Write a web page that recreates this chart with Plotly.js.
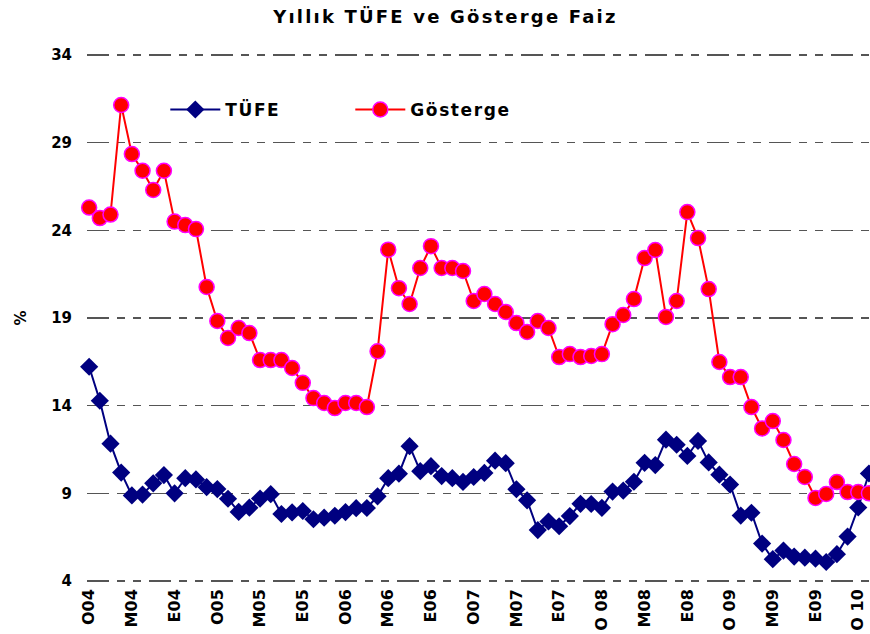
<!DOCTYPE html>
<html>
<head>
<meta charset="utf-8">
<script src="https://cdn.plot.ly/plotly-3.0.1.min.js"></script>
<style>
html, body { margin: 0; padding: 0; background: #fff; }
#chart { width: 870px; height: 634px; }
#chart .gtitle { letter-spacing: 2.2px; }
#chart .legendtext { letter-spacing: 1.6px; }
</style>
</head>
<body>
<div id="chart"></div>
<script>
// Monthly data, January 2004 – February 2010
const monthIndex = Array.from({length: 74}, (_, i) => i);

const tufe = [
  16.22, 14.28, 11.83, 10.18, 8.88, 8.93, 9.57, 10.04, 9.00, 9.86, 9.79, 9.35,
  9.24, 8.69, 7.94, 8.18, 8.70, 8.95, 7.82, 7.91, 7.99, 7.52, 7.61, 7.72,
  7.93, 8.15, 8.16, 8.83, 9.86, 10.12, 11.69, 10.26, 10.55, 9.98, 9.86, 9.65,
  9.93, 10.16, 10.86, 10.72, 9.23, 8.60, 6.90, 7.39, 7.12, 7.70, 8.40, 8.39,
  8.17, 9.10, 9.15, 9.66, 10.74, 10.61, 12.06, 11.77, 11.13, 11.99, 10.76, 10.06,
  9.50, 7.73, 7.89, 6.13, 5.24, 5.73, 5.39, 5.33, 5.27, 5.08, 5.53, 6.53,
  8.19, 10.13
];

const gosterge = [
  25.3, 24.7, 24.9, 31.15, 28.35, 27.4, 26.3, 27.4, 24.5, 24.3, 24.07, 20.77,
  18.83, 17.86, 18.43, 18.14, 16.6, 16.6, 16.6, 16.15, 15.3, 14.43, 14.15, 13.86,
  14.15, 14.15, 13.92, 17.1, 22.9, 20.7, 19.8, 21.85, 23.1, 21.85, 21.85, 21.68,
  19.97, 20.37, 19.8, 19.34, 18.71, 18.2, 18.83, 18.43, 16.77, 16.94, 16.77, 16.83,
  16.94, 18.65, 19.17, 20.08, 22.42, 22.88, 19.06, 19.97, 25.04, 23.56, 20.65, 16.49,
  15.63, 15.63, 13.92, 12.7, 13.12, 12.04, 10.67, 9.93, 8.73, 8.96, 9.64, 9.07,
  9.07, 9.0
];

const tickPositions = [0, 4, 8, 12, 16, 20, 24, 28, 32, 36, 40, 44, 48, 52, 56, 60, 64, 68, 72];
const tickLabels = ["O04", "M04", "E04", "O05", "M05", "E05", "O06", "M06", "E06", "O07",
                    "M07", "E07", "O 08", "M08", "E08", "O 09", "M09", "E09", "O 10"];
const yTicks = [4, 9, 14, 19, 24, 29, 34];

const FONT = '"DejaVu Sans", "Liberation Sans", Arial, sans-serif';

const traces = [
  {
    x: monthIndex, y: tufe, name: 'TÜFE', type: 'scatter', mode: 'lines+markers',
    line: {color: '#000080', width: 2},
    marker: {symbol: 'diamond', size: 14, color: '#000080', line: {width: 0}},
    cliponaxis: false
  },
  {
    x: monthIndex, y: gosterge, name: 'Gösterge', type: 'scatter', mode: 'lines+markers',
    line: {color: '#FF0000', width: 2},
    marker: {symbol: 'circle', size: 15, color: '#FF0000', line: {width: 1.5, color: '#FF00FF'}},
    cliponaxis: false
  }
];

const layout = {
  width: 870, height: 634,
  paper_bgcolor: '#ffffff', plot_bgcolor: '#ffffff',
  margin: {l: 87, r: 0, t: 54, b: 52},
  title: {
    text: '<b>Yıllık TÜFE ve Gösterge Faiz</b>',
    font: {family: FONT, size: 18, color: '#000'},
    x: 0.512, xanchor: 'center', y: 0.973, yanchor: 'middle'
  },
  showlegend: true,
  legend: {
    orientation: 'h', x: 0.1, y: 0.894, xanchor: 'left', yanchor: 'middle',
    font: {family: FONT, size: 17, color: '#000', weight: 'bold'},
    bgcolor: 'rgba(0,0,0,0)', itemwidth: 50, tracegroupgap: 0,
    entrywidth: 120
  },
  xaxis: {
    range: [-0.2, 73.1],
    tickvals: tickPositions, ticktext: tickLabels,
    tickangle: -90,
    tickfont: {family: FONT, size: 16, color: '#000', weight: 'bold'},
    showgrid: false, zeroline: false, showline: false,
    ticks: '', ticklabelstandoff: 3
  },
  yaxis: {
    range: [3.94, 34.06],
    tickvals: yTicks,
    tickfont: {family: FONT, size: 15, color: '#000', weight: 'bold'},
    showgrid: true, gridcolor: '#555555', gridwidth: 1.3,
    griddash: '22px,8px,8px,8px,8px,8px',
    zeroline: false, showline: false,
    ticks: '', ticklabelstandoff: 14,
    title: {text: '<b>%</b>', font: {family: FONT, size: 15, color: '#000'}, standoff: 20}
  }
};

Plotly.newPlot('chart', traces, layout, {displayModeBar: false, staticPlot: true});
</script>
</body>
</html>
